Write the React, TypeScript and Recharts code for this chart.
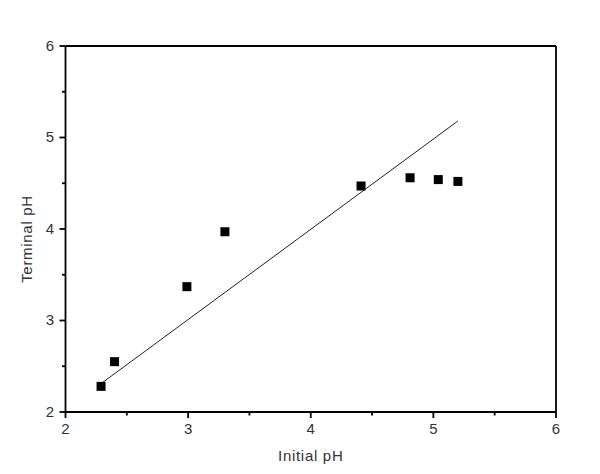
import { ScatterChart, Scatter, XAxis, YAxis, ReferenceLine } from "recharts";

const initialPh = [2.29, 2.4, 2.99, 3.3, 4.41, 4.81, 5.04, 5.2];
const terminalPh = [2.28, 2.55, 3.37, 3.97, 4.47, 4.56, 4.54, 4.52];
const fitX = [2.3, 5.2];
const fitY = [2.32, 5.18];
const axisTicks = [2, 2.5, 3, 3.5, 4, 4.5, 5, 5.5, 6];

const points = initialPh.map((x, i) => ({ x, y: terminalPh[i] }));
const fitLine = fitX.map((x, i) => ({ x, y: fitY[i] }));

const font = "'Liberation Sans', Arial, sans-serif";

function SquareDot(props: any) {
  const { cx, cy } = props;
  if (cx == null || cy == null) return <g />;
  return <rect x={cx - 4.5} y={cy - 4.5} width={9} height={9} fill="#000" />;
}

function XTick(props: any) {
  const { x, y, payload } = props;
  const major = Number.isInteger(payload.value);
  return (
    <g>
      <line x1={x} x2={x} y1={y} y2={y + (major ? 6 : 3.5)} stroke="#000" strokeWidth={1.8} />
      {major && (
        <text x={x} y={y + 21.5} textAnchor="middle" fontSize={15} fontFamily={font} fill="#333">
          {payload.value}
        </text>
      )}
    </g>
  );
}

function YTick(props: any) {
  const { x, y, payload } = props;
  const major = Number.isInteger(payload.value);
  return (
    <g>
      <line x1={x} x2={x - (major ? 6 : 3.5)} y1={y} y2={y} stroke="#000" strokeWidth={1.8} />
      {major && (
        <text x={x - 11.5} y={y + 4.5} textAnchor="end" fontSize={15} fontFamily={font} fill="#333">
          {payload.value}
        </text>
      )}
    </g>
  );
}

function XTitle(props: any) {
  const { viewBox } = props;
  return (
    <text
      x={viewBox.x + viewBox.width / 2}
      y={viewBox.y + 49}
      textAnchor="middle"
      fontSize={15}
      letterSpacing={0.7}
      fontFamily={font}
      fill="#333"
    >
      Initial pH
    </text>
  );
}

function YTitle(props: any) {
  const { viewBox } = props;
  const cx = 32;
  const cy = viewBox.y + viewBox.height / 2 + 10;
  return (
    <text
      x={cx}
      y={cy}
      transform={`rotate(-90 ${cx} ${cy})`}
      textAnchor="middle"
      fontSize={15}
      letterSpacing={0.7}
      fontFamily={font}
      fill="#333"
    >
      Terminal pH
    </text>
  );
}

export default function App() {
  return (
    <div style={{ position: "absolute", left: 0, top: 0, background: "#fff" }}>
      <ScatterChart width={600} height={474} margin={{ top: 46, right: 44, bottom: 0, left: 0 }}>
        <XAxis
          type="number"
          dataKey="x"
          domain={[2, 6]}
          ticks={axisTicks}
          tickSize={0}
          tickMargin={0}
          tickLine={false}
          tick={<XTick />}
          height={62}
          axisLine={{ stroke: "#000", strokeWidth: 1.8 }}
          label={<XTitle />}
        />
        <YAxis
          type="number"
          dataKey="y"
          domain={[2, 6]}
          ticks={axisTicks}
          tickSize={0}
          tickMargin={0}
          tickLine={false}
          tick={<YTick />}
          width={65.5}
          axisLine={{ stroke: "#000", strokeWidth: 1.8 }}
          label={<YTitle />}
        />
        <ReferenceLine y={6} stroke="#000" strokeWidth={1.8} />
        <ReferenceLine x={6} stroke="#000" strokeWidth={1.8} />
        <Scatter
          data={fitLine}
          line={{ stroke: "#222", strokeWidth: 1 }}
          shape={() => <g />}
          isAnimationActive={false}
        />
        <Scatter data={points} shape={<SquareDot />} isAnimationActive={false} />
      </ScatterChart>
    </div>
  );
}
